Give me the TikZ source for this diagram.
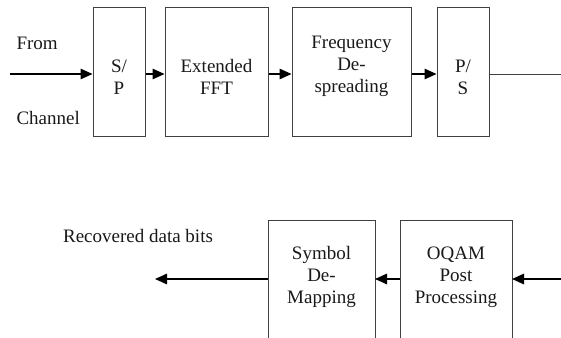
\documentclass[tikz,border=0pt]{standalone}
\usepackage{fontspec}
\setmainfont{Liberation Serif}
\usetikzlibrary{arrows.meta}
\begin{document}
\begin{tikzpicture}[x=1pt,y=-1pt,
  blk/.style={draw=black!75,line width=1pt,inner sep=0pt},
  lbl/.style={font=\rmfamily\fontsize{19}{22}\selectfont,align=center,text=black!90},
  arr/.style={line width=1.4pt,-{Triangle[length=12pt,width=10.5pt]}},
  ln/.style={line width=1pt,draw=black!75}]
\useasboundingbox (0,0) rectangle (561,337);
% top row boxes
\node[blk,minimum width=52pt,minimum height=128pt] (sp) at (119,72) {};
\node[blk,minimum width=103pt,minimum height=128pt] (fft) at (216.5,72) {};
\node[blk,minimum width=119pt,minimum height=128pt] (fd) at (351.5,72) {};
\node[blk,minimum width=52pt,minimum height=128pt] (ps) at (463,72) {};
\node[lbl] at (119,77) {S/\\P};
\node[lbl] at (216.5,76.5) {Extended\\FFT};
\node[lbl] at (351.5,66) {Frequency\\De-\\spreading};
\node[lbl] at (463,77) {P/\\S};
\node[lbl,anchor=west] (from) at (13,43) {From};
\node[lbl,anchor=west] (chan) at (13,118) {Channel};
\coordinate (in) at (10,74);
\coordinate (outR) at (561,74);
\draw[arr] (in) -- (in -| sp.west);
\draw[arr] (sp.east |- 0,74) -- (fft.west |- 0,74);
\draw[arr] (fft.east |- 0,74) -- (fd.west |- 0,74);
\draw[arr] (fd.east |- 0,74) -- (ps.west |- 0,74);
\draw[ln] (ps.east |- 0,74) -- (outR);
% bottom row
\begin{scope}
\clip (0,0) rectangle (561,337);
\draw[blk] (268,345) -- (268,220) -- (375,220) -- (375,345);
\draw[blk] (400,345) -- (400,220) -- (512,220) -- (512,345);
\end{scope}
\coordinate (sym) at (321.5,277);
\coordinate (oq) at (456,277);
\node[lbl] (symt) at (sym) {Symbol\\De-\\Mapping};
\node[lbl] (oqt) at (oq) {OQAM\\Post\\Processing};
\node[lbl] (rec) at (138,236) {Recovered data bits};
\coordinate (inB) at (561,279);
\coordinate (outB) at (155,279);
\draw[arr] (inB) -- (512,279);
\draw[arr] (400,279) -- (375,279);
\draw[arr] (268,279) -- (outB);
\end{tikzpicture}
\end{document}
